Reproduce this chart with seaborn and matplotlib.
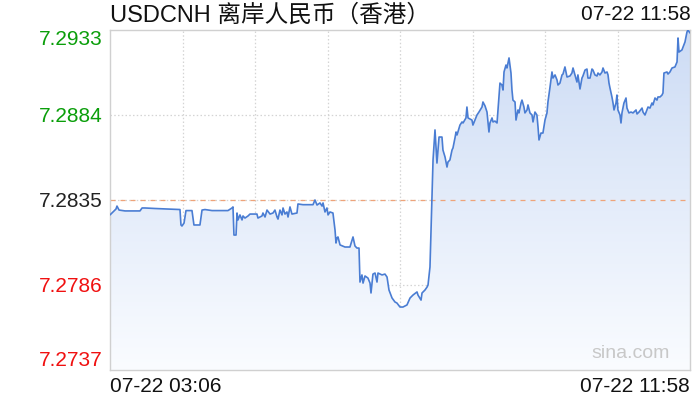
import numpy as np
import pandas as pd
import matplotlib
matplotlib.use("Agg")
import matplotlib.pyplot as plt
from matplotlib.colors import LinearSegmentedColormap
import seaborn as sns

# ---- data (minutes after 07-22 03:06, price) ----
minutes = [
    0.0, 1.8, 3.7, 5.5, 6.4, 8.3, 13.8, 27.5, 29.4, 32.1, 41.3, 64.2, 65.1, 66.0, 67.9, 69.7,
    75.2, 77.0, 82.5, 84.4, 87.1, 93.6, 108.2, 111.9, 112.8, 113.7, 115.6, 116.5, 117.4, 119.2,
    121.1, 122.0, 123.8, 126.6, 128.4, 134.8, 135.7, 139.4, 140.3, 142.2, 144.0, 146.8, 149.5,
    151.3, 153.2, 154.1, 155.9, 157.8, 158.7, 160.5, 162.3, 163.3, 165.1, 166.9, 171.5, 172.4,
    177.0, 186.2, 188.0, 189.9, 192.6, 194.5, 195.4, 197.2, 199.0, 200.0, 201.8, 204.5, 206.4,
    207.3, 208.2, 209.1, 211.0, 215.5, 220.1, 222.9, 224.7, 226.5, 228.4, 229.3, 231.1, 232.1,
    233.9, 236.6, 238.5, 239.4, 241.2, 243.1, 244.9, 245.8, 249.5, 252.2, 254.1, 255.9, 258.7,
    261.4, 263.2, 266.0, 268.7, 272.4, 275.2, 277.9, 281.6, 282.5, 285.3, 286.2, 288.9, 290.8,
    291.7, 293.5, 295.3, 296.3, 298.1, 299.9, 301.8, 304.5, 305.4, 307.3, 309.1, 310.0, 311.8,
    313.7, 314.6, 316.4, 317.4, 318.3, 321.0, 322.9, 323.8, 326.5, 327.4, 328.4, 332.0, 332.9,
    334.8, 336.6, 338.4, 341.2, 342.1, 344.0, 345.8, 347.6, 348.5, 350.4, 351.3, 353.1, 355.0,
    355.9, 357.7, 359.5, 360.5, 361.4, 363.2, 364.1, 366.0, 367.8, 368.7, 369.6, 371.5, 372.4,
    374.2, 375.1, 377.0, 377.9, 379.7, 380.6, 382.5, 383.4, 385.2, 387.1, 388.0, 389.8, 391.6,
    392.6, 393.5, 395.3, 397.1, 399.0, 400.8, 401.7, 403.6, 405.4, 406.3, 408.2, 410.0, 410.9,
    412.7, 414.6, 415.5, 417.3, 419.2, 421.9, 423.7, 424.7, 426.5, 428.3, 429.2, 431.1, 432.9,
    433.8, 435.7, 437.5, 438.4, 440.3, 442.1, 443.0, 444.8, 446.7, 447.6, 449.4, 451.3, 452.2,
    454.0, 455.9, 456.8, 457.7, 458.6, 460.4, 461.4, 462.3, 464.1, 465.0, 465.9, 467.8, 468.7,
    469.6, 471.4, 473.3, 474.2, 476.0, 477.9, 479.7, 482.5, 483.4, 485.2, 488.0, 488.9, 490.7,
    492.5, 493.5, 495.3, 497.1, 498.0, 499.9, 501.7, 502.6, 504.5, 506.3, 507.2, 508.1, 510.9,
    511.8, 513.6, 515.5, 518.2, 520.1, 521.0, 521.9, 524.6, 525.6, 527.4, 529.2, 530.1, 532.0,
]
prices = [
    7.28264, 7.28275, 7.28287, 7.28298, 7.28315, 7.28292, 7.28287, 7.28287, 7.28304, 7.28304,
    7.28301, 7.28295, 7.28206, 7.28200, 7.28217, 7.28289, 7.28289, 7.28206, 7.28206, 7.28292,
    7.28295, 7.28289, 7.28289, 7.28304, 7.28310, 7.28148, 7.28148, 7.28275, 7.28235, 7.28264,
    7.28235, 7.28258, 7.28246, 7.28258, 7.28269, 7.28269, 7.28246, 7.28258, 7.28275, 7.28252,
    7.28292, 7.28269, 7.28275, 7.28292, 7.28252, 7.28240, 7.28292, 7.28264, 7.28304, 7.28269,
    7.28281, 7.28252, 7.28310, 7.28269, 7.28275, 7.28327, 7.28323, 7.28323, 7.28350, 7.28321,
    7.28333, 7.28315, 7.28333, 7.28281, 7.28304, 7.28264, 7.28281, 7.28275, 7.28177, 7.28102,
    7.28131, 7.28137, 7.28091, 7.28079, 7.28079, 7.28137, 7.28085, 7.28073, 7.28073, 7.27877,
    7.27918, 7.27871, 7.27912, 7.27900, 7.27871, 7.27814, 7.27923, 7.27929, 7.27877, 7.27929,
    7.27918, 7.27923, 7.27906, 7.27831, 7.27785, 7.27762, 7.27756, 7.27733, 7.27733, 7.27745,
    7.27785, 7.27802, 7.27820, 7.27802, 7.27773, 7.27814, 7.27831, 7.27848, 7.27860, 7.27964,
    7.28350, 7.28581, 7.28754, 7.28563, 7.28713, 7.28713, 7.28638, 7.28598, 7.28540, 7.28569,
    7.28581, 7.28638, 7.28650, 7.28707, 7.28742, 7.28725, 7.28782, 7.28800, 7.28794, 7.28823,
    7.28886, 7.28823, 7.28811, 7.28782, 7.28811, 7.28840, 7.28857, 7.28886, 7.28915, 7.28892,
    7.28857, 7.28742, 7.28794, 7.28823, 7.28800, 7.28805, 7.28794, 7.28869, 7.29024, 7.29013,
    7.28984, 7.29088, 7.29128, 7.29111, 7.29169, 7.29082, 7.28984, 7.28926, 7.28915, 7.28811,
    7.28869, 7.28852, 7.28909, 7.28926, 7.28886, 7.28852, 7.28869, 7.28898, 7.28852, 7.28840,
    7.28800, 7.28857, 7.28840, 7.28771, 7.28696, 7.28736, 7.28736, 7.28811, 7.28852, 7.28915,
    7.29001, 7.29088, 7.29053, 7.29071, 7.29042, 7.29013, 7.29024, 7.29071, 7.29076, 7.29117,
    7.29059, 7.29065, 7.29082, 7.29111, 7.29071, 7.29030, 7.29071, 7.28990, 7.29053, 7.29065,
    7.29099, 7.29105, 7.29053, 7.29053, 7.29105, 7.29099, 7.29071, 7.29065, 7.29082, 7.29071,
    7.29088, 7.29111, 7.29082, 7.29088, 7.29071, 7.29024, 7.28996, 7.28944, 7.28909, 7.28869,
    7.28909, 7.28955, 7.28869, 7.28840, 7.28794, 7.28852, 7.28909, 7.28938, 7.28880, 7.28852,
    7.28857, 7.28852, 7.28869, 7.28846, 7.28857, 7.28880, 7.28857, 7.28840, 7.28869, 7.28886,
    7.28880, 7.28909, 7.28898, 7.28938, 7.28926, 7.28944, 7.28944, 7.28955, 7.28967, 7.29082,
    7.29088, 7.29076, 7.29088, 7.29111, 7.29117, 7.29146, 7.29284, 7.29203, 7.29215, 7.29232,
    7.29261, 7.29318, 7.29330, 7.29313,
]
prev_close = 7.2835
y_ticks = [7.2933, 7.2884, 7.2835, 7.2786, 7.2737]
y_tick_labels = ["7.2933", "7.2884", "7.2835", "7.2786", "7.2737"]
y_tick_colors = ["#0a9e0a", "#0a9e0a", "#222222", "#f01010", "#f01010"]
x_span = 532.0
x_tick_labels = ["07-22 03:06", "07-22 11:58"]
title_text = "USDCNH 离岸人民币（香港）"
time_text = "07-22 11:58"
watermark = "sina.com"

df = pd.DataFrame({"minute": minutes, "price": prices})

sns.set_style("white")
plt.rcParams["font.family"] = ["Liberation Sans", "Noto Sans CJK SC", "DejaVu Sans"]

fig = plt.figure(figsize=(7, 4), dpi=100)
ax = fig.add_axes([110 / 700, 30 / 400, 580 / 700, 340 / 400])

ymin, ymax = y_ticks[-1], y_ticks[0]

# gradient area under the line
poly = ax.fill_between(df["minute"], df["price"], ymin, color="none", lw=0)
grad = np.linspace(0, 1, 256).reshape(-1, 1)
cmap = LinearSegmentedColormap.from_list("g", ["#fafcff", "#cddcf5"])
im = ax.imshow(grad, extent=[0, x_span, ymin, ymax], aspect="auto", cmap=cmap,
               origin="lower", zorder=1, interpolation="bilinear")
im.set_clip_path(poly.get_paths()[0], transform=ax.transData)

sns.lineplot(data=df, x="minute", y="price", ax=ax, color="#4a7dd3", lw=1.2, zorder=3)

ax.set_xlim(0, x_span)
ax.set_ylim(ymin, ymax)

# grid
for k in range(1, 8):
    ax.axvline(x_span * k / 8, color="#d4d4d4", lw=0.9, ls=(0, (1.2, 1.8)), zorder=0.5)
for v in y_ticks[1:-1]:
    ax.axhline(v, color="#d4d4d4", lw=0.9, ls=(0, (1.2, 1.8)), zorder=0.5)
ax.axhline(prev_close, color="#eea47a", lw=0.9, ls=(0, (4, 4)), zorder=2)

for sp in ax.spines.values():
    sp.set_color("#d0d0d0")
    sp.set_linewidth(1.0)

ax.set_yticks(y_ticks)
ax.set_yticklabels(y_tick_labels, fontsize=15)
ax.tick_params(axis="y", length=0, pad=5)
for lab, c in zip(ax.get_yticklabels(), y_tick_colors):
    lab.set_color(c)
labs = ax.get_yticklabels()
labs[0].set_verticalalignment("top")
labs[-1].set_verticalalignment("bottom")

ax.set_xticks([0, x_span])
ax.set_xticklabels(x_tick_labels, fontsize=15, color="#111111")
ax.tick_params(axis="x", length=0, pad=5)
xl = ax.get_xticklabels()
xl[0].set_horizontalalignment("left")
xl[-1].set_horizontalalignment("right")
ax.set_xlabel("")
ax.set_ylabel("")

fig.text(110 / 700, 1 - 15 / 400, title_text, fontsize=17, color="#111111",
         ha="left", va="center")
fig.text(691 / 700, 1 - 15 / 400, time_text, fontsize=15, color="#111111",
         ha="right", va="center")
ax.text(0.965, 0.05, watermark, transform=ax.transAxes, fontsize=14,
        color="#c8c8c8", ha="right", va="center", zorder=4)

fig.savefig("out.png", dpi=100)
